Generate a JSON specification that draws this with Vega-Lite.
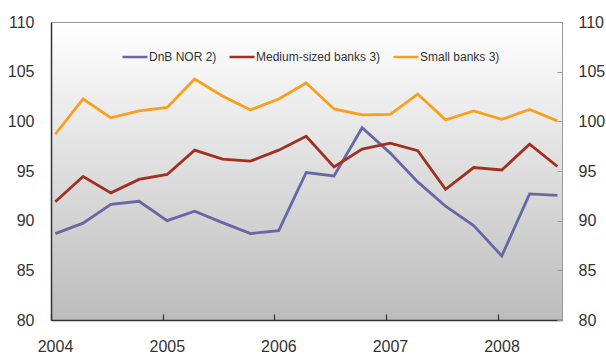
{
  "$schema": "https://vega.github.io/schema/vega-lite/v6.json",
  "width": 511,
  "height": 298,
  "autosize": {"type": "none"},
  "padding": {"left": 51, "top": 22, "right": 44, "bottom": 34},
  "background": "white",
  "config": {
    "font": "Liberation Sans",
    "view": {
      "stroke": "#9a9a9a",
      "strokeWidth": 1,
      "fill": {"gradient": "linear", "x1": 0, "y1": 0, "x2": 0, "y2": 1,
        "stops": [{"offset": 0, "color": "#ffffff"}, {"offset": 1, "color": "#bcbcbc"}]}
    }
  },
  "data": {
    "values": [
      {"date": "2004-01-15", "series": "DnB NOR 2)", "value": 88.7},
      {"date": "2004-04-15", "series": "DnB NOR 2)", "value": 89.75},
      {"date": "2004-07-15", "series": "DnB NOR 2)", "value": 91.65},
      {"date": "2004-10-15", "series": "DnB NOR 2)", "value": 91.95},
      {"date": "2005-01-15", "series": "DnB NOR 2)", "value": 90.0},
      {"date": "2005-04-15", "series": "DnB NOR 2)", "value": 90.95},
      {"date": "2005-07-15", "series": "DnB NOR 2)", "value": 89.8},
      {"date": "2005-10-15", "series": "DnB NOR 2)", "value": 88.7},
      {"date": "2006-01-15", "series": "DnB NOR 2)", "value": 89.0},
      {"date": "2006-04-15", "series": "DnB NOR 2)", "value": 94.85},
      {"date": "2006-07-15", "series": "DnB NOR 2)", "value": 94.5},
      {"date": "2006-10-15", "series": "DnB NOR 2)", "value": 99.35},
      {"date": "2007-01-15", "series": "DnB NOR 2)", "value": 96.8},
      {"date": "2007-04-15", "series": "DnB NOR 2)", "value": 93.9},
      {"date": "2007-07-15", "series": "DnB NOR 2)", "value": 91.45},
      {"date": "2007-10-15", "series": "DnB NOR 2)", "value": 89.5},
      {"date": "2008-01-15", "series": "DnB NOR 2)", "value": 86.45},
      {"date": "2008-04-15", "series": "DnB NOR 2)", "value": 92.7},
      {"date": "2008-07-15", "series": "DnB NOR 2)", "value": 92.55},
      {"date": "2004-01-15", "series": "Medium-sized banks 3)", "value": 91.9},
      {"date": "2004-04-15", "series": "Medium-sized banks 3)", "value": 94.45},
      {"date": "2004-07-15", "series": "Medium-sized banks 3)", "value": 92.8},
      {"date": "2004-10-15", "series": "Medium-sized banks 3)", "value": 94.15},
      {"date": "2005-01-15", "series": "Medium-sized banks 3)", "value": 94.65},
      {"date": "2005-04-15", "series": "Medium-sized banks 3)", "value": 97.1},
      {"date": "2005-07-15", "series": "Medium-sized banks 3)", "value": 96.2},
      {"date": "2005-10-15", "series": "Medium-sized banks 3)", "value": 96.0},
      {"date": "2006-01-15", "series": "Medium-sized banks 3)", "value": 97.1},
      {"date": "2006-04-15", "series": "Medium-sized banks 3)", "value": 98.5},
      {"date": "2006-07-15", "series": "Medium-sized banks 3)", "value": 95.4},
      {"date": "2006-10-15", "series": "Medium-sized banks 3)", "value": 97.2},
      {"date": "2007-01-15", "series": "Medium-sized banks 3)", "value": 97.8},
      {"date": "2007-04-15", "series": "Medium-sized banks 3)", "value": 97.05},
      {"date": "2007-07-15", "series": "Medium-sized banks 3)", "value": 93.15},
      {"date": "2007-10-15", "series": "Medium-sized banks 3)", "value": 95.35},
      {"date": "2008-01-15", "series": "Medium-sized banks 3)", "value": 95.1},
      {"date": "2008-04-15", "series": "Medium-sized banks 3)", "value": 97.7},
      {"date": "2008-07-15", "series": "Medium-sized banks 3)", "value": 95.45},
      {"date": "2004-01-15", "series": "Small banks 3)", "value": 98.7},
      {"date": "2004-04-15", "series": "Small banks 3)", "value": 102.25},
      {"date": "2004-07-15", "series": "Small banks 3)", "value": 100.35},
      {"date": "2004-10-15", "series": "Small banks 3)", "value": 101.05},
      {"date": "2005-01-15", "series": "Small banks 3)", "value": 101.4},
      {"date": "2005-04-15", "series": "Small banks 3)", "value": 104.25},
      {"date": "2005-07-15", "series": "Small banks 3)", "value": 102.55},
      {"date": "2005-10-15", "series": "Small banks 3)", "value": 101.15},
      {"date": "2006-01-15", "series": "Small banks 3)", "value": 102.25},
      {"date": "2006-04-15", "series": "Small banks 3)", "value": 103.85},
      {"date": "2006-07-15", "series": "Small banks 3)", "value": 101.25},
      {"date": "2006-10-15", "series": "Small banks 3)", "value": 100.65},
      {"date": "2007-01-15", "series": "Small banks 3)", "value": 100.7},
      {"date": "2007-04-15", "series": "Small banks 3)", "value": 102.75},
      {"date": "2007-07-15", "series": "Small banks 3)", "value": 100.15},
      {"date": "2007-10-15", "series": "Small banks 3)", "value": 101.05},
      {"date": "2008-01-15", "series": "Small banks 3)", "value": 100.2},
      {"date": "2008-04-15", "series": "Small banks 3)", "value": 101.2},
      {"date": "2008-07-15", "series": "Small banks 3)", "value": 100.05}
    ]
  },
  "resolve": {"axis": {"y": "independent"}},
  "layer": [
    {
      "mark": {"type": "line", "strokeWidth": 2.8, "clip": true},
      "encoding": {
        "x": {
          "field": "date", "type": "temporal",
          "scale": {"type": "utc", "domain": ["2004-01-01", "2008-07-30"]},
          "axis": {
            "title": null, "format": "%Y",
            "values": [{"year": 2004, "utc": true}, {"year": 2005, "utc": true}, {"year": 2006, "utc": true}, {"year": 2007, "utc": true}, {"year": 2008, "utc": true}],
            "grid": false, "domainColor": "#333333", "domainWidth": 1.5,
            "tickColor": "#333333", "tickSize": -6, "tickWidth": 1.2,
            "labelPadding": 24, "labelFontSize": 16, "labelColor": "#333333",
            "labelOffset": 4, "labelFlush": false
          }
        },
        "y": {
          "field": "value", "type": "quantitative",
          "scale": {"domain": [80, 110], "nice": false, "zero": false},
          "axis": {
            "title": null, "orient": "left", "values": [80, 85, 90, 95, 100, 105, 110],
            "grid": false, "ticks": false, "domainColor": "#333333", "domainWidth": 1.5,
            "labelPadding": 17, "labelFontSize": 16, "labelColor": "#333333"
          }
        },
        "color": {
          "field": "series", "type": "nominal",
          "scale": {
            "domain": ["DnB NOR 2)", "Medium-sized banks 3)", "Small banks 3)"],
            "range": ["#6767a6", "#a0301f", "#f8a01c"]
          },
          "legend": {
            "title": null, "orient": "none", "legendX": 70, "legendY": 21,
            "direction": "horizontal", "symbolType": "stroke", "symbolSize": 625,
            "symbolStrokeWidth": 2.5, "labelFontSize": 12, "labelColor": "#333333",
            "labelOffset": 0, "columnPadding": 7
          }
        }
      }
    },
    {
      "mark": {"type": "line", "strokeOpacity": 0},
      "encoding": {
        "x": {"field": "date", "type": "temporal"},
        "y": {
          "field": "value", "type": "quantitative",
          "axis": {
            "title": null, "orient": "right", "values": [80, 85, 90, 95, 100, 105, 110],
            "grid": false, "domainColor": "#9a9a9a", "tickColor": "#9a9a9a",
            "tickSize": -5, "labelPadding": 21, "labelFontSize": 16, "labelColor": "#333333"
          }
        },
        "detail": {"field": "series", "type": "nominal"}
      }
    }
  ]
}
